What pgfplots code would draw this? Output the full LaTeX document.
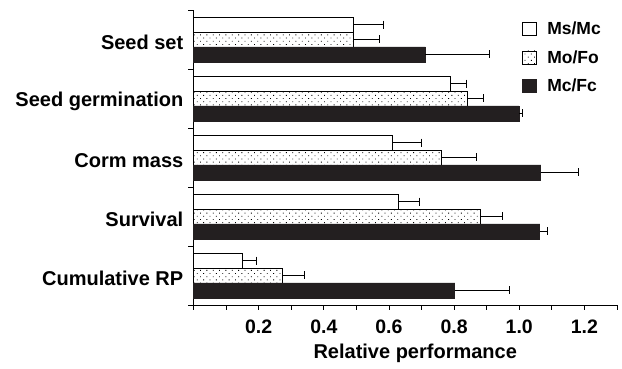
\documentclass[border=0pt]{standalone}
\usepackage{fontspec}
\setmainfont{Liberation Sans}
\usepackage{pgfplots}
\pgfplotsset{compat=1.18}
\usetikzlibrary{patterns.meta}
\definecolor{barblack}{RGB}{35,31,32}
\begin{document}
\begin{tikzpicture}
\useasboundingbox (-193.5pt,-64pt) rectangle (428.5pt,305pt);
\begin{axis}[
  at={(0pt,0pt)}, anchor=south west,
  scale only axis, width=423.5pt, height=295pt,
  xmin=0, xmax=1.3, ymin=-0.5, ymax=4.5,
  clip=false,
  axis x line=bottom, axis y line=left,
  axis line style={-, line width=0.8pt, black},
  xbar, bar width=0.254,
  xtick={0,0.2,0.4,0.6,0.8,1.0,1.2},
  xticklabels={,0.2,0.4,0.6,0.8,1.0,1.2},
  minor xtick={0.1,0.3,0.5,0.7,0.9,1.1,1.3},
  ytick={-0.5,0.5,1.5,2.5,3.5,4.5}, yticklabels={},
  extra y ticks={0,1,2,3,4},
  extra y tick labels={Cumulative RP,Survival,Corm mass,Seed germination,Seed set},
  extra y tick style={major tick length=0pt, yticklabel style={inner sep=0pt, xshift=-10pt, yshift=-3pt}},
  tick align=outside, major tick length=5pt, minor tick length=5pt,
  tick style={line width=0.8pt, black},
  xticklabel style={font=\fontsize{19.5}{22}\selectfont\bfseries, inner sep=0pt, yshift=-10pt},
  yticklabel style={font=\fontsize{20}{24}\selectfont\bfseries},
  xlabel={Relative performance},
  xlabel style={font=\fontsize{20}{24}\selectfont\bfseries, xshift=10pt, yshift=-6pt},
  legend cell align=left,
  legend style={at={(axis cs:1.0,4.5)}, anchor=north west, yshift=-8pt, draw=none, fill=none,
    font=\fontsize{17.5}{20}\selectfont\bfseries, row sep=10pt,
    /tikz/every odd column/.append style={column sep=8pt}},
  legend image code/.code={\draw[#1, line width=0.8pt] (0pt,-6.5pt) rectangle (14pt,6.5pt);},
  error bars/error bar style={line width=0.8pt, black},
  error bars/error mark options={black, mark size=4pt, line width=0.8pt, rotate=0},
]
\addplot[draw=black, fill=white, line width=0.8pt, bar shift=0.254,
  error bars/.cd, x dir=plus, x explicit, error mark=|]
  coordinates {(0.49,4) +- (0.094,0) (0.79,3) +- (0.049,0) (0.61,2) +- (0.091,0)
               (0.63,1) +- (0.063,0) (0.149,0) +- (0.043,0)};
\addlegendentry{Ms/Mc}
\addplot[draw=black, fill=white, postaction={pattern={Dots[distance=4.5pt, angle=45, radius=0.6pt]}, pattern color=black}, line width=0.8pt, bar shift=0,
  error bars/.cd, x dir=plus, x explicit, error mark=|]
  coordinates {(0.49,4) +- (0.082,0) (0.84,3) +- (0.05,0) (0.76,2) +- (0.108,0)
               (0.882,1) +- (0.065,0) (0.272,0) +- (0.068,0)};
\addlegendentry{Mo/Fo}
\addplot[draw=barblack, fill=barblack, line width=0.8pt, bar shift=-0.254,
  error bars/.cd, x dir=plus, x explicit, error mark=|]
  coordinates {(0.712,4) +- (0.197,0) (0.999,3) +- (0.01,0) (1.066,2) +- (0.117,0)
               (1.063,1) +- (0.023,0) (0.802,0) +- (0.169,0)};
\addlegendentry{Mc/Fc}
\end{axis}
\end{tikzpicture}
\end{document}
